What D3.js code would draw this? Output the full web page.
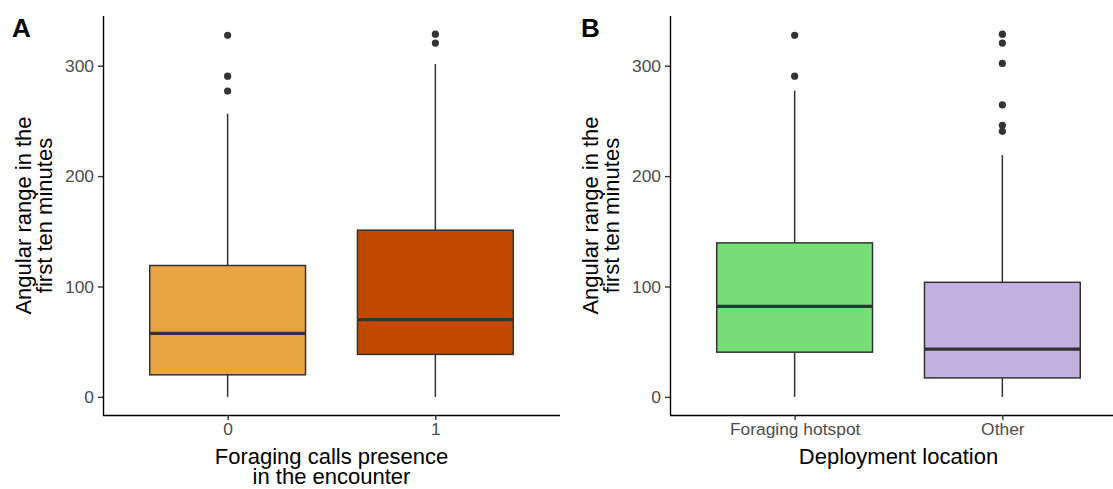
<!DOCTYPE html>
<html>
<head>
<meta charset="utf-8">
<script src="https://cdn.jsdelivr.net/npm/d3@7"></script>
<style>
  html, body { margin: 0; padding: 0; background: #ffffff; }
  svg { display: block; }
  text { font-family: "Liberation Sans", Arial, sans-serif; }
</style>
</head>
<body>
<svg id="chart" width="1113" height="489"></svg>
<script>
// ---- Panel A: foraging calls presence ----
const catsA = ["0", "1"];
const lowerA = [0, 0];
const q1A = [20, 38.5];
const medianA = [57.5, 70];
const q3A = [119, 151];
const upperA = [256.5, 301.5];
const outliersA = [[277, 290.5, 327.5], [320.5, 328.5]];
const fillA = ["#E8A441", "#C24A00"];

// ---- Panel B: deployment location ----
const catsB = ["Foraging hotspot", "Other"];
const lowerB = [0, 0];
const q1B = [40.5, 17.2];
const medianB = [82, 43.2];
const q3B = [139.5, 103.8];
const upperB = [277.5, 219];
const outliersB = [[290.5, 327.5], [240.5, 246, 264.5, 302, 320.5, 328.5]];
const fillB = ["#77DD77", "#C3B1E1"];

const yTicks = [0, 100, 200, 300];
const yDomain = [-16.4, 345];
const yTitleLines = ["Angular range in the", "first ten minutes"];

const svg = d3.select("#chart");

function panel(opts) {
  const { left, right, top, bottom, cats, lower, q1, med, q3, upper, outl, fills,
          xTitle, tag, tagX } = opts;

  const x = d3.scalePoint().domain(cats).range([left, right]).padding(0.6);
  const y = d3.scaleLinear().domain(yDomain).range([bottom, top]);
  const boxW = x.step() * 0.75;

  const g = svg.append("g");

  const rows = cats.map((c, i) => ({
    c, lo: lower[i], q1: q1[i], med: med[i], q3: q3[i], hi: upper[i],
    out: outl[i], fill: fills[i]
  }));

  const box = g.selectAll("g.box").data(rows).join("g").attr("class", "box");

  // whiskers
  box.append("line")
    .attr("x1", d => x(d.c)).attr("x2", d => x(d.c))
    .attr("y1", d => y(d.q3)).attr("y2", d => y(d.hi))
    .attr("stroke", "#333333").attr("stroke-width", 1.5);
  box.append("line")
    .attr("x1", d => x(d.c)).attr("x2", d => x(d.c))
    .attr("y1", d => y(d.q1)).attr("y2", d => y(d.lo))
    .attr("stroke", "#333333").attr("stroke-width", 1.5);

  // interquartile box
  box.append("rect")
    .attr("x", d => x(d.c) - boxW / 2)
    .attr("width", boxW)
    .attr("y", d => y(d.q3))
    .attr("height", d => y(d.q1) - y(d.q3))
    .attr("fill", d => d.fill)
    .attr("stroke", "#333333").attr("stroke-width", 1.5);

  // median
  box.append("line")
    .attr("x1", d => x(d.c) - boxW / 2).attr("x2", d => x(d.c) + boxW / 2)
    .attr("y1", d => y(d.med)).attr("y2", d => y(d.med))
    .attr("stroke", "#333333").attr("stroke-width", 3.3);

  // outliers
  box.selectAll("circle").data(d => d.out.map(v => ({ c: d.c, v })))
    .join("circle")
    .attr("cx", d => x(d.c)).attr("cy", d => y(d.v)).attr("r", 3.6)
    .attr("fill", "#333333");

  // y axis
  const yAx = g.append("g").attr("transform", `translate(${left},0)`)
    .call(d3.axisLeft(y).tickValues(yTicks).tickSize(5).tickPadding(4));
  yAx.select(".domain").attr("d", `M0.5,${top}V${bottom}`).attr("stroke", "#000").attr("stroke-width", 1.4);
  yAx.selectAll(".tick line").attr("stroke", "#333333").attr("stroke-width", 1.4);
  yAx.selectAll(".tick text").attr("fill", "#4D4D4D").style("font-size", "17.4px")
    .style("font-family", "'Liberation Sans', Arial, sans-serif");

  // x axis
  const xAx = g.append("g").attr("transform", `translate(0,${bottom})`)
    .call(d3.axisBottom(x).tickSize(5).tickPadding(3));
  xAx.select(".domain").attr("d", `M${left},0.5H${right}`).attr("stroke", "#000").attr("stroke-width", 1.4);
  xAx.selectAll(".tick line").attr("stroke", "#333333").attr("stroke-width", 1.4);
  xAx.selectAll(".tick text").attr("fill", "#4D4D4D").style("font-size", "17.4px")
    .style("font-family", "'Liberation Sans', Arial, sans-serif");

  // y title (two lines, rotated)
  const cy = (top + bottom) / 2;
  const yt = g.append("text")
    .attr("transform", `translate(${left - 72},${cy}) rotate(-90)`)
    .attr("text-anchor", "middle").attr("fill", "#000").style("font-size", "22px");
  yTitleLines.forEach((t, i) => {
    yt.append("tspan").attr("x", 0).attr("y", i * 21).text(t);
  });

  // x title
  const cx = (left + right) / 2;
  const xt = g.append("text").attr("text-anchor", "middle").attr("fill", "#000")
    .style("font-size", "22px");
  xTitle.forEach((t, i) => {
    xt.append("tspan").attr("x", cx).attr("y", bottom + 49 + i * 20).text(t);
  });

  // panel tag
  g.append("text").attr("x", tagX).attr("y", 37).attr("fill", "#000")
    .style("font-size", "26px").style("font-weight", "bold").text(tag);
}

panel({
  left: 103, right: 560, top: 16, bottom: 415,
  cats: catsA, lower: lowerA, q1: q1A, med: medianA, q3: q3A, upper: upperA,
  outl: outliersA, fills: fillA,
  xTitle: ["Foraging calls presence", "in the encounter"], tag: "A", tagX: 12
});

panel({
  left: 670, right: 1127, top: 16, bottom: 415,
  cats: catsB, lower: lowerB, q1: q1B, med: medianB, q3: q3B, upper: upperB,
  outl: outliersB, fills: fillB,
  xTitle: ["Deployment location"], tag: "B", tagX: 581
});
</script>
</body>
</html>
